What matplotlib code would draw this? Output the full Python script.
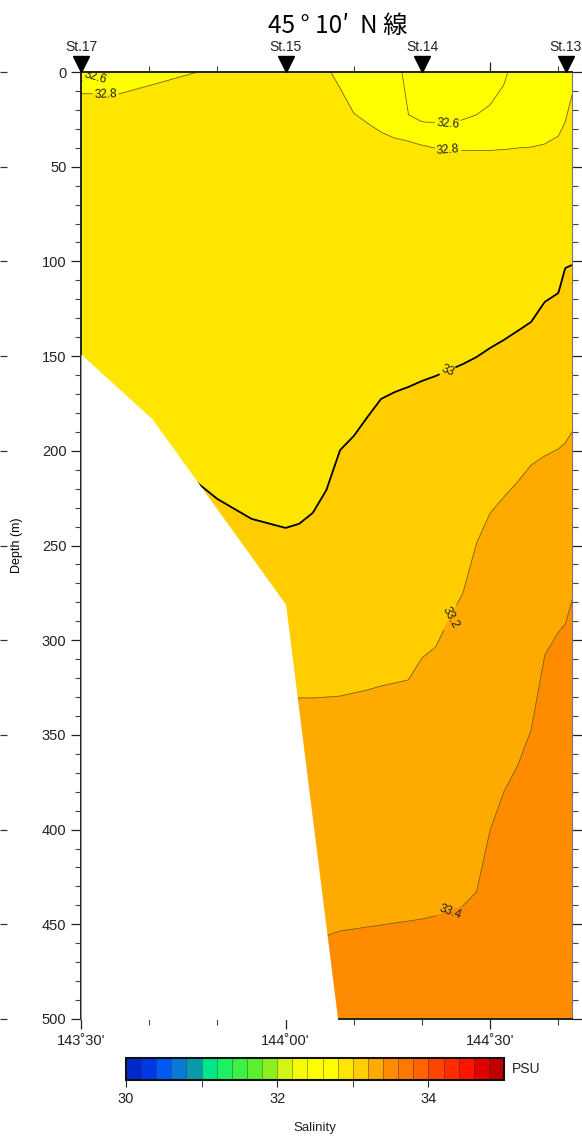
import numpy as np
import matplotlib
matplotlib.use("Agg")
import matplotlib.pyplot as plt
from matplotlib.colors import ListedColormap, BoundaryNorm
from matplotlib.cm import ScalarMappable
import matplotlib.transforms as mtransforms

# ---------------- data ----------------
# column longitudes (minutes east of 143 deg E)
col_lon_min = [30, 35, 40, 45, 50, 55, 60, 62, 64, 66, 68, 70, 72, 74, 76, 77, 78,
               80, 82, 84, 86, 88, 90, 92, 94, 96, 98, 100, 101, 102]
# depth (m) of each isohaline per column (negative = level lies above the sea surface)
iso_levels = [32.4, 32.6, 32.8, 33.0, 33.2, 33.4, 33.6]
depth_324 = [-60] * 30
depth_326 = [5, -0.5, -10, -20, -30, -30, -30, -30, -30, -30, -25, -20, -15, -10, -6,
             -1, 22.7, 26.4, 26.9, 27.5, 25.3, 22.7, 17.4, 6.9, -16, -25, -30, -30, -30, -30]
depth_328 = [11, 12, 7, 2, -3, -10, -15, -15, -12, -4, 8.4, 21.6, 26.9, 31.7, 34.8,
             35.6, 36.4, 38.5, 40.1, 41.2, 41.4, 41.4, 41.2, 40.9, 40.1, 39.6, 38.0, 33.8, 26.4, 12]
depth_330 = [180, 190, 200, 211, 225.5, 236, 240.8, 238.6, 232.8, 220.7, 199.6, 192.2,
             182.2, 172.6, 169.0, 167.6, 166.3, 163.1, 160.5, 157.3, 154.2, 150.5, 145.7,
             141.5, 136.8, 132.0, 121.4, 116.7, 103.5, 101.9]
depth_332 = [335, 335, 335, 334, 333, 332, 331, 330.5, 330.5, 330, 329.5, 327.9, 326.3,
             324.2, 322.6, 321.8, 321.0, 309.4, 303.6, 288.8, 275.1, 248.7, 232.8, 224.4,
             216.5, 207.5, 202.7, 199.0, 195.9, 190.1]
depth_334 = [460, 460, 460, 460, 460, 460, 459, 458, 457, 456, 453.5, 452.5, 451.4, 450.4,
             449.3, 448.8, 448.3, 447.2, 445.6, 443.5, 440.3, 432.9, 400.2, 380.1, 366.4,
             347.4, 307.8, 295.7, 291.5, 278.8]
depth_336 = [600] * 30

# bottom topography
bathy_lon_min = [30, 40.4, 60, 67.7]
bathy_depth = [149, 183, 281, 502]

# stations
station_names = ["St.17", "St.15", "St.14", "St.13"]
station_lon_min = [30, 60, 80, 101.1]

# colour classes 30-35 PSU, 0.2 step
class_colors = ['#0028C8', '#0038E6', '#0058F5', '#0A7AD8', '#0A9AAA', '#00E68C',
                '#1EF064', '#3CF046', '#5AF02D', '#8CF01E', '#D2F514', '#F5FA05',
                '#FFFF00', '#FFFF00', '#FFE600', '#FFCD00', '#FFAA00', '#FF8C00',
                '#FF7800', '#FF6400', '#FF4600', '#FF2D00', '#FF1400', '#E10000', '#BE0000']

# ---------------- build field ----------------
lon = 143 + np.array(col_lon_min) / 60.0
iso_depths = np.array([depth_324, depth_326, depth_328, depth_330,
                       depth_332, depth_334, depth_336], dtype=float)
xf = np.linspace(lon[0], lon[-1], 601)
z = np.linspace(0, 520, 1041)
dep_f = np.array([np.interp(xf, lon, row) for row in iso_depths])
S = np.empty((len(z), len(xf)))
for i in range(len(xf)):
    S[:, i] = np.interp(z, dep_f[:, i], iso_levels)

bounds = np.round(np.arange(30, 35.001, 0.2), 1)
cmap = ListedColormap(class_colors)
norm = BoundaryNorm(bounds, cmap.N)

# ---------------- figure ----------------
plt.rcParams['font.family'] = ['Liberation Sans', 'DejaVu Sans']
fig = plt.figure(figsize=(5.82, 11.38), dpi=100)
ax = fig.add_axes([81 / 582, 1 - 1019 / 1138, 491 / 582, 947 / 1138])

ax.contourf(xf, z, S, levels=bounds, cmap=cmap, norm=norm, zorder=1)
thin = ax.contour(xf, z, S, levels=[32.6, 32.8, 33.2, 33.4], colors='#7a6a10',
                  linewidths=0.6, zorder=2)
thick = ax.contour(xf, z, S, levels=[33.0], colors='black', linewidths=1.3, zorder=2)

lbl_kw = dict(inline=True, fontsize=8.5, fmt='%g', colors='#222222', inline_spacing=2)
ax.clabel(thin, manual=[(143.535, 3.5), (143.56, 12.0), (144.397, 27.5),
                        (144.397, 41.2), (144.402, 288), (144.402, 443.5)], **lbl_kw)
ax.clabel(thick, manual=[(144.397, 158.4)], **lbl_kw)

blon = 143 + np.array(bathy_lon_min) / 60.0
ax.fill_between(blon, bathy_depth, 530, color='white', zorder=3, lw=0)

ax.set_xlim(143.5, 144.7)
ax.set_ylim(500, 0)

ax.set_yticks(np.arange(0, 501, 50))
ax.set_yticks(np.arange(0, 501, 10), minor=True)
ax.set_xticks([143.5, 144.0, 144.5])
ax.set_xticklabels(["143˚30'", "144˚00'", "144˚30'"])
ax.set_xticks(143.5 + np.arange(0, 8) / 6.0, minor=True)
ax.tick_params(axis='both', which='major', direction='out', length=7, width=0.9,
               labelsize=10.5, colors='#222222')
ax.tick_params(axis='both', which='minor', direction='out', length=4, width=0.8,
               colors='#444444')
ax.tick_params(top=True, right=True, which='both')
ax.tick_params(labeltop=False, labelright=False)
for sp in ['left', 'bottom', 'top']:
    ax.spines[sp].set_linewidth(1.4)
    ax.spines[sp].set_color('#222222')
ax.spines['right'].set_linewidth(0.8)
ax.spines['right'].set_color('#777777')
ax.set_ylabel('Depth (m)', fontsize=9)
ax.yaxis.set_label_coords(-58 / 491, 0.5)

# stations
trans = mtransforms.blended_transform_factory(ax.transData, ax.transAxes)
slon = 143 + np.array(station_lon_min) / 60.0
ax.plot(slon, [1.0085] * len(slon), linestyle='none', marker='v', markersize=11,
        color='black', transform=trans, clip_on=False, zorder=5)
for nm, x in zip(station_names, slon):
    ax.text(x, 1.0265, nm, transform=trans, ha='center', va='center', fontsize=10,
            color='#222222')

fig.text(338 / 582, 1 - 26 / 1138, "45 ° 10′  N 線", ha='center', va='center', fontsize=17.5,
         family=['Noto Sans CJK JP', 'DejaVu Sans'])

# ticks of the neighbouring panel cut at the left edge
axl = fig.add_axes([-0.1, 1 - 1019 / 1138, 0.1, 947 / 1138])
axl.set_ylim(500, 0)
axl.set_xticks([])
axl.yaxis.tick_right()
axl.set_yticks(np.arange(0, 501, 50))
axl.tick_params(axis='y', direction='out', length=5, width=0.9, labelright=False,
                colors='#333333')
for sp in axl.spines.values():
    sp.set_visible(False)
axl.patch.set_visible(False)

# colorbar
cax = fig.add_axes([126 / 582, 1 - 1080 / 1138, 378 / 582, 22 / 1138])
cb = fig.colorbar(ScalarMappable(norm=norm, cmap=cmap), cax=cax, orientation='horizontal',
                  drawedges=True, ticks=[30, 32, 34])
cb.dividers.set_color('#333333')
cb.dividers.set_linewidth(0.5)
cb.dividers.set_alpha(0.6)
cb.outline.set_linewidth(1.5)
cb.outline.set_edgecolor('#111111')
cax.set_xticks([31, 33], minor=True)
cax.tick_params(which='both', direction='out', length=5, labelsize=10.5, colors='#222222')
cax.set_xticklabels(['30', '32', '34'])
fig.text(512 / 582, 1 - 1069 / 1138, 'PSU', ha='left', va='center', fontsize=10,
         color='#222222')
fig.text(315 / 582, 1 - 1128 / 1138, 'Salinity', ha='center', va='center', fontsize=9.5,
         color='#222222')

fig.savefig('out.png', dpi=100)
